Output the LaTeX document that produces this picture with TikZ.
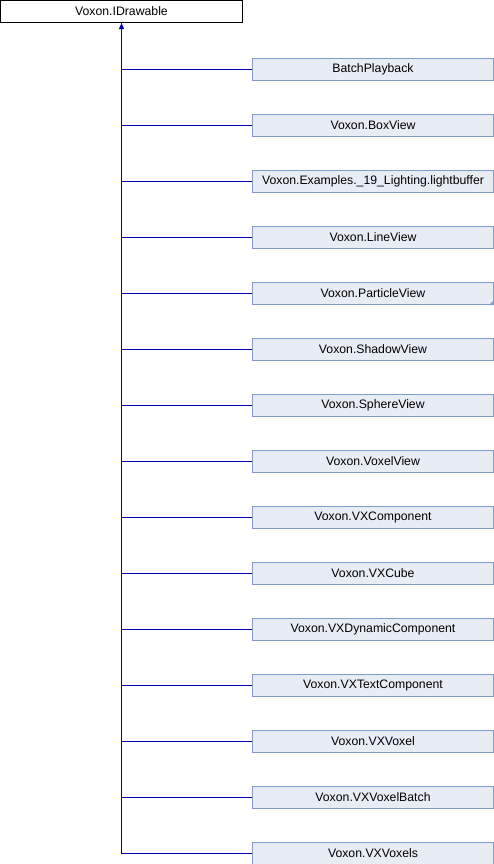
\documentclass[tikz,border=0pt]{standalone}
\usepackage{fontspec}
\setmainfont{Liberation Sans}
\usetikzlibrary{arrows.meta, positioning}
\definecolor{Edge_Blue}{RGB}{0,0,170}
\definecolor{Box_Fill}{RGB}{232,236,244}
\definecolor{Box_Line}{RGB}{132,155,206}

\tikzset{
  basebox/.style={draw=black, fill=white, line width=1bp, minimum width=242bp, minimum height=22bp, inner sep=0pt, font=\fontsize{12.3}{14}\selectfont},
  childbox/.style={draw=Box_Line, fill=Box_Fill, line width=1bp, minimum width=241bp, minimum height=22bp, inner sep=0pt, font=\fontsize{12.3}{14}\selectfont},
  conn/.style={draw=Edge_Blue, color=Edge_Blue, line width=1.2bp}
}

\begin{document}
\begin{tikzpicture}[x=1bp, y=-1bp]
        \useasboundingbox (0,0) rectangle (494,864);

        % --- 1. Base class (top) ---
        \node[basebox] (base) at (121.5, 11.5) {Voxon.IDrawable};

        % --- 2. Derived classes ---
        \foreach \name [count=\i] in {BatchPlayback, Voxon.BoxView, Voxon.Examples.\_19\_Lighting.lightbuffer, Voxon.LineView, Voxon.ParticleView, Voxon.ShadowView, Voxon.SphereView, Voxon.VoxelView, Voxon.VXComponent, Voxon.VXCube, Voxon.VXDynamicComponent, Voxon.VXTextComponent, Voxon.VXVoxel, Voxon.VXVoxelBatch, Voxon.VXVoxels} {
            \node[childbox] (child\i) at (373, {69.5+56*(\i-1)}) {\name};
            \draw[conn] (base.south) |- (child\i.west);
        }

        % Arrow head at the base class
        \draw[conn, {Triangle[length=6bp, width=5bp]}-] (base.south) -- ++(0, 14);

        % Marker: ParticleView has more children
        \fill[Box_Line] ([xshift=-5bp]child5.south east) -- (child5.south east) -- ([yshift=5bp]child5.south east) -- cycle;

    \end{tikzpicture}
\end{document}
